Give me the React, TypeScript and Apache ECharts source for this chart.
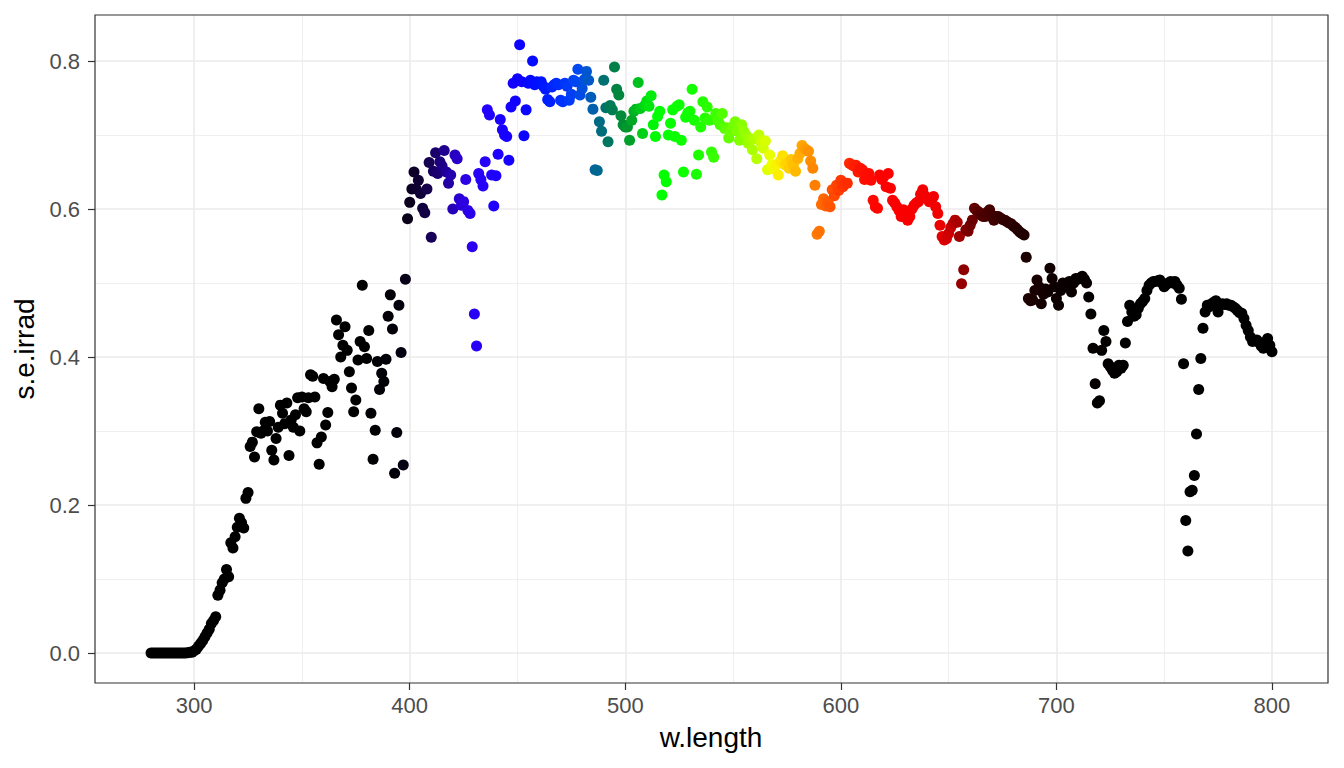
import React, { useEffect, useRef } from "react";
import * as echarts from "echarts";

// wavelength of the first value (nm); one value per nm up to 800 nm
const W_START = 280;

// spectral energy irradiance, 280..800 nm
const sEIrrad: number[] = [
  // 280
  0, 0, 0, 0, 0, 0, 0, 0, 0, 0,
  // 290
  0, 0, 0, 0, 0, 0, 0, 0.0005, 0.001, 0.001,
  // 300
  0.003, 0.005, 0.009, 0.013, 0.017, 0.022, 0.027, 0.032, 0.040, 0.044,
  // 310
  0.049, 0.078, 0.085, 0.095, 0.100, 0.113, 0.103, 0.149, 0.142, 0.157,
  // 320
  0.170, 0.182, 0.176, 0.169, 0.209, 0.217, 0.279, 0.285, 0.265, 0.299,
  // 330
  0.330, 0.297, 0.300, 0.312, 0.300, 0.313, 0.274, 0.261, 0.290, 0.305,
  // 340
  0.335, 0.324, 0.310, 0.338, 0.267, 0.315, 0.305, 0.322, 0.345, 0.300,
  // 350
  0.346, 0.330, 0.326, 0.345, 0.376, 0.374, 0.346, 0.284, 0.255, 0.292,
  // 360
  0.371, 0.308, 0.325, 0.367, 0.360, 0.370, 0.450, 0.430, 0.400, 0.416,
  // 370
  0.441, 0.409, 0.380, 0.358, 0.326, 0.342, 0.396, 0.421, 0.497, 0.414,
  // 380
  0.398, 0.436, 0.324, 0.262, 0.301, 0.394, 0.356, 0.378, 0.367, 0.397,
  // 390
  0.455, 0.484, 0.438, 0.243, 0.298, 0.470, 0.406, 0.254, 0.505, 0.587,
  // 400
  0.609, 0.627, 0.650, 0.627, 0.639, 0.621, 0.601, 0.595, 0.627, 0.663,
  // 410
  0.562, 0.651, 0.676, 0.648, 0.664, 0.658, 0.679, 0.650, 0.635, 0.646,
  // 420
  0.600, 0.673, 0.668, 0.614, 0.605, 0.610, 0.640, 0.598, 0.594, 0.549,
  // 430
  0.458, 0.415, 0.648, 0.640, 0.631, 0.664, 0.734, 0.727, 0.646, 0.604,
  // 440
  0.645, 0.674, 0.721, 0.707, 0.700, 0.698, 0.666, 0.738, 0.770, 0.746,
  // 450
  0.776, 0.822, 0.772, 0.699, 0.734, 0.770, 0.774, 0.800, 0.768, 0.772,
  // 460
  0.770, 0.772, 0.766, 0.762, 0.748, 0.745, 0.765, 0.768, 0.770, 0.768,
  // 470
  0.747, 0.745, 0.770, 0.766, 0.747, 0.755, 0.774, 0.772, 0.789, 0.754,
  // 480
  0.763, 0.775, 0.786, 0.774, 0.751, 0.735, 0.653, 0.652, 0.718, 0.705,
  // 490
  0.774, 0.737, 0.691, 0.740, 0.734, 0.792, 0.762, 0.754, 0.726, 0.714,
  // 500
  0.711, 0.711, 0.693, 0.720, 0.732, 0.735, 0.771, 0.736, 0.702, 0.740,
  // 510
  0.746, 0.739, 0.753, 0.714, 0.698, 0.725, 0.732, 0.619, 0.646, 0.637,
  // 520
  0.700, 0.716, 0.734, 0.698, 0.739, 0.741, 0.693, 0.650, 0.724, 0.730,
  // 530
  0.732, 0.762, 0.720, 0.647, 0.673, 0.711, 0.745, 0.723, 0.738, 0.720,
  // 540
  0.677, 0.670, 0.729, 0.720, 0.714, 0.729, 0.709, 0.710, 0.696, 0.705,
  // 550
  0.712, 0.718, 0.705, 0.693, 0.714, 0.705, 0.700, 0.689, 0.695, 0.680,
  // 560
  0.695, 0.668, 0.700, 0.690, 0.682, 0.692, 0.653, 0.673, 0.660, 0.654,
  // 570
  0.660, 0.646, 0.665, 0.672, 0.660, 0.662, 0.655, 0.667, 0.660, 0.651,
  // 580
  0.668, 0.675, 0.686, 0.682, 0.680, 0.678, 0.665, 0.655, 0.632, 0.566,
  // 590
  0.570, 0.606, 0.614, 0.604, 0.610, 0.603, 0.626, 0.618, 0.632, 0.625,
  // 600
  0.639, 0.630, 0.635, 0.635, 0.662, 0.660, 0.658, 0.659, 0.650, 0.655,
  // 610
  0.653, 0.640, 0.646, 0.648, 0.639, 0.612, 0.603, 0.601, 0.646, 0.640,
  // 620
  0.644, 0.630, 0.648, 0.628, 0.612, 0.608, 0.603, 0.598, 0.590, 0.599,
  // 630
  0.595, 0.585, 0.590, 0.600, 0.605, 0.608, 0.610, 0.620, 0.626, 0.618,
  // 640
  0.614, 0.610, 0.612, 0.617, 0.603, 0.594, 0.578, 0.563, 0.558, 0.560,
  // 650
  0.567, 0.575, 0.580, 0.585, 0.582, 0.563, 0.499, 0.518, 0.572, 0.570,
  // 660
  0.578, 0.585, 0.601, 0.598, 0.596, 0.592, 0.590, 0.590, 0.596, 0.599,
  // 670
  0.592, 0.585, 0.590, 0.590, 0.588, 0.586, 0.585, 0.583, 0.581, 0.580,
  // 680
  0.577, 0.575, 0.572, 0.569, 0.567, 0.565, 0.535, 0.479, 0.476, 0.477,
  // 690
  0.490, 0.504, 0.495, 0.472, 0.485, 0.492, 0.488, 0.520, 0.506, 0.495,
  // 700
  0.479, 0.470, 0.490, 0.500, 0.495, 0.500, 0.502, 0.488, 0.500, 0.506,
  // 710
  0.505, 0.507, 0.509, 0.505, 0.500, 0.481, 0.458, 0.412, 0.364, 0.338,
  // 720
  0.341, 0.409, 0.436, 0.421, 0.391, 0.387, 0.382, 0.378, 0.380, 0.389,
  // 730
  0.385, 0.389, 0.419, 0.448, 0.470, 0.461, 0.455, 0.457, 0.466, 0.472,
  // 740
  0.475, 0.479, 0.490, 0.497, 0.500, 0.502, 0.502, 0.503, 0.504, 0.500,
  // 750
  0.495, 0.498, 0.500, 0.502, 0.500, 0.502, 0.497, 0.493, 0.478, 0.391,
  // 760
  0.179, 0.138, 0.218, 0.220, 0.240, 0.296, 0.356, 0.398, 0.439, 0.461,
  // 770
  0.470, 0.468, 0.472, 0.474, 0.476, 0.461, 0.470, 0.472, 0.471, 0.472,
  // 780
  0.470, 0.470, 0.468, 0.466, 0.463, 0.460, 0.459, 0.452, 0.443, 0.436,
  // 790
  0.427, 0.421, 0.422, 0.423, 0.420, 0.415, 0.412, 0.420, 0.425, 0.416,
  // 800
  0.407,
];

const xTicks = [300, 400, 500, 600, 700, 800];
const xMinor = [350, 450, 550, 650, 750];
const yTicks = [0, 0.2, 0.4, 0.6, 0.8];
const yMinor = [0.1, 0.3, 0.5, 0.7];

// approximate colour of light for each wavelength (nm)
const colorStops: [number, string][] = [
  [380, "#000000"],
  [395, "#04000c"],
  [400, "#0a001e"],
  [405, "#100038"],
  [410, "#170058"],
  [415, "#1e0085"],
  [420, "#2600b8"],
  [425, "#2c00e0"],
  [432, "#2800f8"],
  [440, "#1e00ff"],
  [450, "#1000ff"],
  [460, "#0010ff"],
  [470, "#0030ff"],
  [478, "#0048f0"],
  [483, "#0058c8"],
  [487, "#006890"],
  [490, "#007070"],
  [495, "#008048"],
  [500, "#009030"],
  [505, "#00b820"],
  [510, "#00e010"],
  [515, "#00ff00"],
  [530, "#10ff00"],
  [540, "#30ff00"],
  [550, "#70ff00"],
  [560, "#b0ff00"],
  [568, "#f0ff00"],
  [572, "#ffe800"],
  [578, "#ffc000"],
  [583, "#ffa000"],
  [588, "#ff8000"],
  [593, "#ff6000"],
  [600, "#ff3800"],
  [610, "#ff1000"],
  [620, "#ff0000"],
  [645, "#f00000"],
  [650, "#d00000"],
  [655, "#a00000"],
  [660, "#700000"],
  [665, "#500000"],
  [675, "#350000"],
  [685, "#200000"],
  [700, "#0c0000"],
  [720, "#030000"],
  [740, "#000000"],
];

function hexRgb(h: string): number[] {
  return [1, 3, 5].map((i) => parseInt(h.slice(i, i + 2), 16));
}

function wlColor(w: number): string {
  if (w <= colorStops[0][0]) return colorStops[0][1];
  const last = colorStops[colorStops.length - 1];
  if (w >= last[0]) return last[1];
  for (let i = 0; i < colorStops.length - 1; i++) {
    const [w0, c0] = colorStops[i];
    const [w1, c1] = colorStops[i + 1];
    if (w >= w0 && w <= w1) {
      const t = (w - w0) / (w1 - w0);
      const a = hexRgb(c0);
      const b = hexRgb(c1);
      const c = a.map((v, k) => Math.round(v + (b[k] - v) * t));
      return `rgb(${c[0]},${c[1]},${c[2]})`;
    }
  }
  return "#000000";
}

const FONT = '"Liberation Sans", Arial, Helvetica, sans-serif';

export default function App() {
  const ref = useRef<HTMLDivElement>(null);

  useEffect(() => {
    if (!ref.current) return;
    const chart = echarts.init(ref.current, undefined, { renderer: "svg" });

    const points = sEIrrad.map((v, i) => {
      const w = W_START + i;
      return { value: [w, v], itemStyle: { color: wlColor(w) } };
    });

    const gridLines = [
      ...xMinor.map((v) => ({ xAxis: v, lineStyle: { width: 0.8 } })),
      ...yMinor.map((v) => ({ yAxis: v, lineStyle: { width: 0.8 } })),
      ...xTicks.map((v) => ({ xAxis: v, lineStyle: { width: 1.6 } })),
      ...yTicks.map((v) => ({ yAxis: v, lineStyle: { width: 1.6 } })),
    ];

    chart.setOption({
      animation: false,
      backgroundColor: "#ffffff",
      grid: {
        left: 95,
        top: 15,
        width: 1233,
        height: 668,
        show: true,
        borderColor: "#333333",
        borderWidth: 1.2,
        backgroundColor: "transparent",
        z: 3,
      },
      xAxis: {
        type: "value",
        min: 254,
        max: 826,
        axisLine: { show: false, onZero: false },
        splitLine: { show: false },
        axisTick: {
          show: true,
          length: 7,
          customValues: xTicks,
          lineStyle: { color: "#333333", width: 1.2 },
        },
        axisLabel: {
          customValues: xTicks,
          color: "#4d4d4d",
          fontSize: 22,
          fontFamily: FONT,
          margin: 11,
        },
      },
      yAxis: {
        type: "value",
        min: -0.0405,
        max: 0.8622,
        axisLine: { show: false, onZero: false },
        splitLine: { show: false },
        axisTick: {
          show: true,
          length: 7,
          customValues: yTicks,
          lineStyle: { color: "#333333", width: 1.2 },
        },
        axisLabel: {
          customValues: yTicks,
          color: "#4d4d4d",
          fontSize: 22,
          fontFamily: FONT,
          margin: 15,
          formatter: (v: number) => v.toFixed(1),
        },
      },
      series: [
        {
          type: "scatter",
          data: [],
          z: 0,
          silent: true,
          markLine: {
            z: 0,
            silent: true,
            symbol: ["none", "none"],
            label: { show: false },
            emphasis: { disabled: true },
            lineStyle: { color: "#ebebeb", type: "solid" },
            data: gridLines,
          },
        },
        {
          type: "scatter",
          z: 4,
          symbol: "circle",
          symbolSize: 11,
          data: points,
          itemStyle: { opacity: 1 },
          emphasis: { disabled: true },
        },
      ],
      graphic: [
        {
          type: "text",
          x: 711,
          y: 737,
          style: {
            text: "w.length",
            font: `28px ${FONT}`,
            fill: "#000000",
            align: "center",
            verticalAlign: "middle",
          },
        },
        {
          type: "text",
          x: 24,
          y: 349,
          rotation: Math.PI / 2,
          style: {
            text: "s.e.irrad",
            font: `28px ${FONT}`,
            fill: "#000000",
            align: "center",
            verticalAlign: "middle",
          },
        },
      ],
    });

    return () => {
      chart.dispose();
    };
  }, []);

  return (
    <div
      ref={ref}
      style={{ position: "absolute", left: 0, top: 0, width: 1344, height: 768 }}
    />
  );
}
